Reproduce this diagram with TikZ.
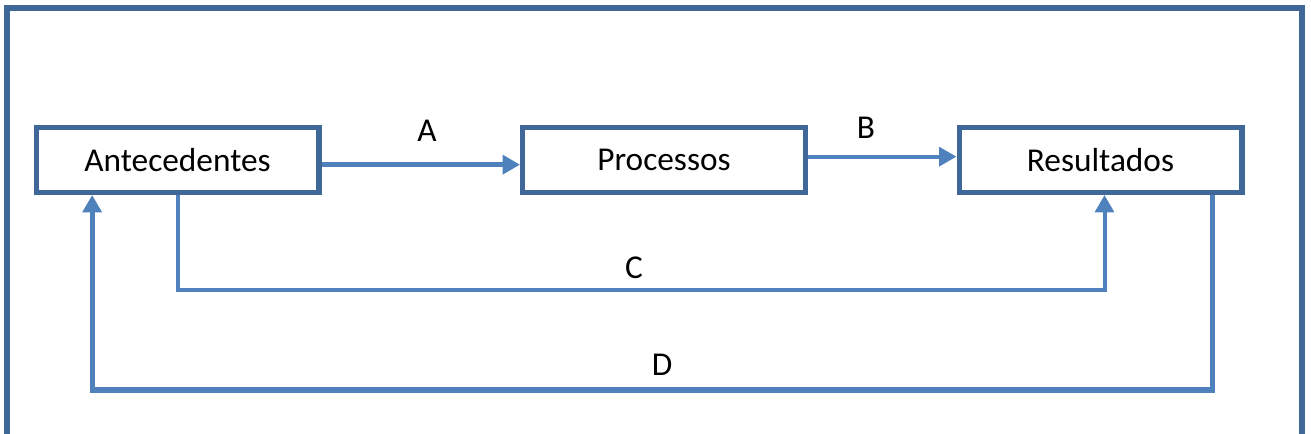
\documentclass[tikz,border=0pt]{standalone}
\usepackage{fontspec}
\setmainfont{Carlito}
\usepackage{tikz}
\usetikzlibrary{arrows.meta,calc}
\definecolor{boxblue}{RGB}{63,103,152}
\definecolor{arrowblue}{RGB}{79,129,189}
\tikzset{
    caixa/.style={draw=boxblue, line width=4pt, fill=white, minimum width=212pt, minimum height=48.5pt, inner sep=0pt, font=\fontsize{25}{29}\selectfont},
    seta/.style={draw=arrowblue, -{Triangle[length=13pt,width=14pt]}},
    rotulo/.style={font=\fontsize{25}{29}\selectfont, inner sep=0pt}
}
\begin{document}
\begin{tikzpicture}[x=0.75pt, y=-0.75pt]
    \useasboundingbox (0,0) rectangle (1311,434);
    %%Moldura
    \draw[boxblue, line width=4pt] (7,434) -- (7,8) -- (1302,8) -- (1302,434);
    %%Caixas
    \node[caixa] (ante) at (177.5,160) {Antecedentes};
    \node[caixa] (proc) at (664,160) {Processos};
    \node[caixa] (res) at (1100.5,160) {Resultados};
    %%Setas A e B
    \draw[seta, line width=3.75pt] ([yshift=-3.5pt]ante.east) -- ([yshift=-3.5pt]proc.west);
    \draw[seta, line width=3pt] ([yshift=2.5pt]proc.east) -- ([yshift=2.5pt]res.west);
    \node[rotulo] (labA) at (427,131) {A};
    \node[rotulo] (labB) at (866,128) {B};
    %%Retorno C e D
    \coordinate (baixoC) at (0,290);
    \coordinate (baixoD) at (0,390);
    \draw[seta, line width=3pt] (ante.south) -- (ante.south |- baixoC) -| ([xshift=3pt]res.south);
    \draw[seta, line width=4pt] ([xshift=-24pt]res.south east) -- ([xshift=-24pt]res.south east |- baixoD) -| ([xshift=44pt]ante.south west);
    \node[rotulo] (labC) at (634,268) {C};
    \node[rotulo] (labD) at (662,365) {D};
\end{tikzpicture}
\end{document}
